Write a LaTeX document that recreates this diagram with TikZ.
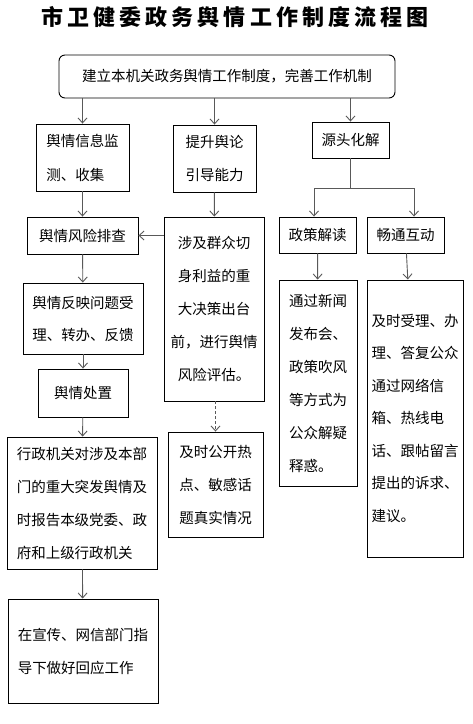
\documentclass[tikz,border=0pt]{standalone}
\usepackage{fontspec}
\newfontfamily\cjk{Noto Sans CJK SC}
\usetikzlibrary{arrows.meta}
\tikzset{
  box/.style={draw=black, line width=0.9pt, inner sep=0pt, align=left,
    font=\cjk\fontsize{14.5}{33}\selectfont},
  arr/.style={draw=black!65, line width=0.9pt, -{Straight Barb[length=5pt,width=9pt]}},
  plain/.style={draw=black!65, line width=0.9pt},
}
\newcommand\tch[1]{\makebox[26.1pt]{#1}}
\begin{document}
\begin{tikzpicture}[x=1pt,y=-1pt]
\useasboundingbox (0,0) rectangle (473,724);
% title
\node (title) at (235,17) {\cjk\bfseries\fontsize{22}{22}\selectfont
  \tch{市}\tch{卫}\tch{健}\tch{委}\tch{政}\tch{务}\tch{舆}\tch{情}\tch{工}\tch{作}\tch{制}\tch{度}\tch{流}\tch{程}\tch{图}};
% top box
\node[box, rounded corners=6pt, minimum width=336pt, minimum height=43pt] (top) at (227,76.5)
  {建立本机关政务舆情工作制度，完善工作机制};
% column 1
\node[box, minimum width=93pt, minimum height=67pt, font=\cjk\fontsize{14.5}{34}\selectfont] (jc) at (82.5,157.5) {舆情信息监\\测、收集};
\node[box, minimum width=111pt, minimum height=37pt] (fx) at (82.5,235.5) {舆情风险排查};
\node[box, minimum width=120pt, minimum height=71pt, font=\cjk\fontsize{14.5}{32}\selectfont] (fy) at (83,318.5) {舆情反映问题受\\理、转办、反馈};
\node[box, minimum width=90pt, minimum height=48pt] (cz) at (83,393) {舆情处置};
\node[box, minimum width=150pt, minimum height=132pt] (xz) at (82,503) {行政机关对涉及本部\\门的重大突发舆情及\\时报告本级党委、政\\府和上级行政机关};
\node[box, minimum width=150pt, minimum height=104pt] (xc) at (83,651) {在宣传、网信部门指\\导下做好回应工作};
% column 2
\node[box, minimum width=83pt, minimum height=67pt] (ts) at (214.5,158.5) {提升舆论\\引导能力};
\node[box, align=center, minimum width=100pt, minimum height=184pt] (sj) at (214,309) {涉及群众切\\身利益的重\\大决策出台\\前，进行舆情\\风险评估。};
\node[box, minimum width=95pt, minimum height=105pt] (gk) at (215.5,484.5) {及时公开热\\点、敏感话\\题真实情况};
% column 3
\node[box, minimum width=77pt, minimum height=36pt] (yt) at (350.5,140) {源头化解};
\node[box, minimum width=77pt, minimum height=36pt] (zc) at (317.5,235) {政策解读};
\node[box, minimum width=77pt, minimum height=36pt] (ct) at (405.5,235) {畅通互动};
\node[box, minimum width=78pt, minimum height=206pt] (xw) at (318,383) {通过新闻\\发布会、\\政策吹风\\等方式为\\公众解疑\\释惑。};
\node[box, minimum width=96pt, minimum height=277pt, font=\cjk\fontsize{14.5}{32.5}\selectfont] (jsl) at (415,418.5) {及时受理、办\\理、答复公众\\通过网络信\\箱、热线电\\话、跟帖留言\\提出的诉求、\\建议。};
% connectors from top
\draw[arr] (top.south -| jc.north) -- (jc.north);
\draw[arr] (top.south -| ts.north) -- (ts.north);
\draw[arr] (top.south -| yt.north) -- (yt.north);
% column 1 chain
\draw[arr] (jc) -- (fx);
\draw[arr] (fx) -- (fy);
\draw[arr] (fy) -- (cz);
\draw[arr] (cz) -- (xz);
\draw[arr] (xz) -- (xc);
% column 2
\draw[arr] (ts) -- (sj);
\draw[arr] (sj.west |- fx.east) -- (fx.east);
\draw[arr, dashed, dash pattern=on 3pt off 2pt] (sj.south -| gk.north) -- (gk.north);
% column 3 branch
\coordinate (bl) at (314,188);
\coordinate (bri) at (414,188);
\draw[plain] (yt.south) -- (yt.south |- bl);
\draw[plain] (bl) -- (bri);
\draw[arr] (bl) -- (bl |- zc.north);
\draw[arr] (bri) -- (bri |- ct.north);
\draw[arr] (zc) -- (xw);
\draw[arr] (ct) -- (jsl);
\end{tikzpicture}
\end{document}
